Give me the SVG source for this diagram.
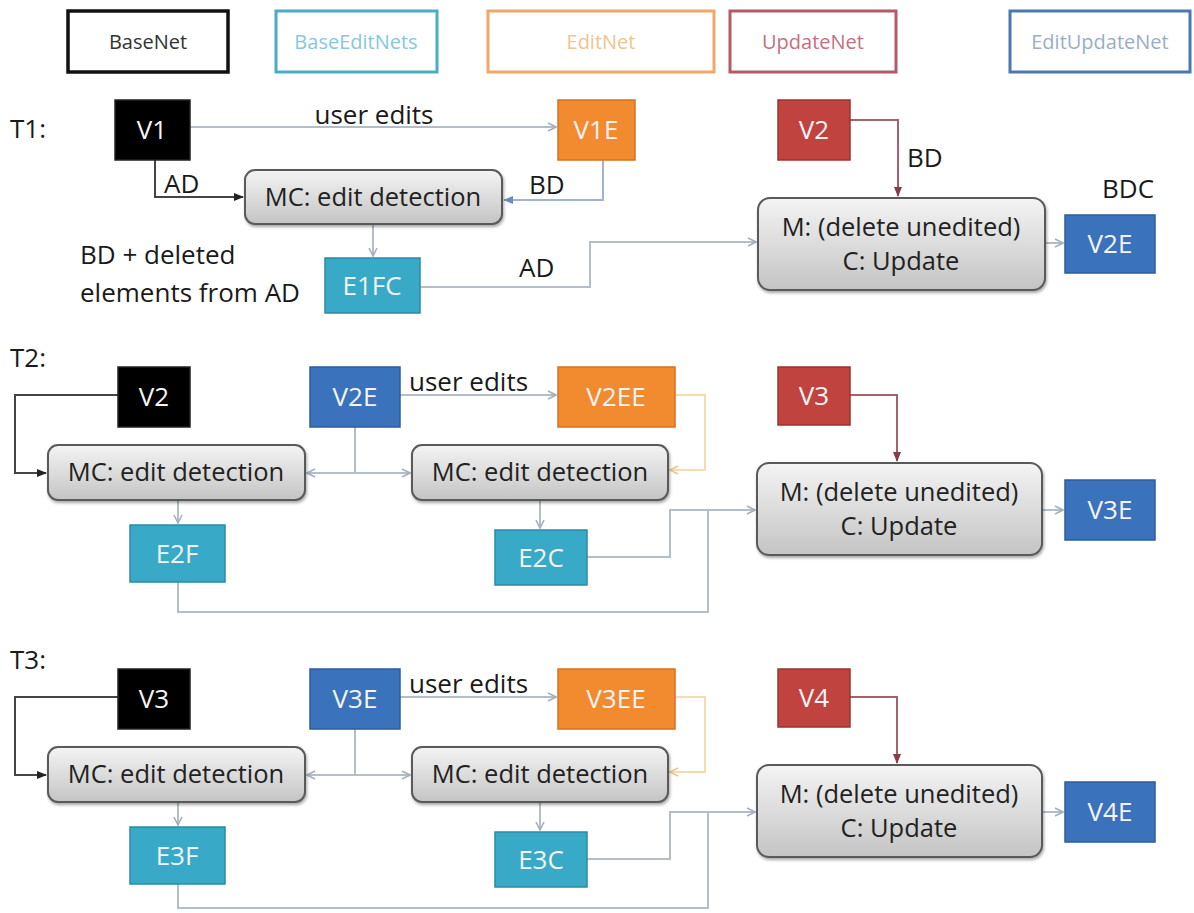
<svg xmlns="http://www.w3.org/2000/svg" width="1194" height="913" viewBox="0 0 1194 913">
<style>
text{font-family:"Open Sans","Liberation Sans",sans-serif;}
.lg{font-size:20px;text-anchor:middle;}
.lbl{font-size:26px;fill:#1a1a1a;}
.nt{font-size:26px;fill:#f4f4f4;text-anchor:middle;}
.pt{font-size:25.5px;fill:#222;text-anchor:middle;}
.blk{fill:#000;stroke:#222;stroke-width:1.5;}
.org{fill:#f28a30;stroke:#d8721e;stroke-width:1.5;}
.red{fill:#c0433f;stroke:#9a3431;stroke-width:1.5;}
.blu{fill:#3a72bc;stroke:#2c5c9c;stroke-width:1.5;}
.tea{fill:#38a9c6;stroke:#2b8aa6;stroke-width:1.5;}
.gry{fill:url(#gg);stroke:#5a5a5a;stroke-width:2;filter:url(#sh);}
.c{fill:none;stroke:#b4bec8;stroke-width:2;}
.cd{fill:none;stroke:#444;stroke-width:2;}
.cr{fill:none;stroke:#a8606a;stroke-width:2;}
.co{fill:none;stroke:#f2dcb0;stroke-width:2;}
.cb{fill:none;stroke:#9fb4d0;stroke-width:2;}
</style>
<defs>
<linearGradient id="gg" x1="0" y1="0" x2="0" y2="1">
<stop offset="0" stop-color="#f4f4f4"/>
<stop offset="1" stop-color="#c4c4c4"/>
</linearGradient>
<filter id="sh" x="-5%" y="-10%" width="110%" height="125%">
<feDropShadow dx="1" dy="2" stdDeviation="1.5" flood-color="#000" flood-opacity="0.35"/>
</filter>
<marker id="ag" viewBox="0 0 10 10" refX="9" refY="5" markerWidth="10" markerHeight="10" markerUnits="userSpaceOnUse" orient="auto"><path d="M1,1 L9,5 L1,9" fill="none" stroke="#a4b0bc" stroke-width="1.6"/></marker>
<marker id="ad" viewBox="0 0 10 10" refX="9" refY="5" markerWidth="10" markerHeight="10" markerUnits="userSpaceOnUse" orient="auto"><path d="M0,1 L10,5 L0,9 Z" fill="#222"/></marker>
<marker id="ar" viewBox="0 0 10 10" refX="9" refY="5" markerWidth="10" markerHeight="10" markerUnits="userSpaceOnUse" orient="auto"><path d="M0,1 L10,5 L0,9 Z" fill="#8a3a48"/></marker>
<marker id="ab" viewBox="0 0 10 10" refX="9" refY="5" markerWidth="10" markerHeight="10" markerUnits="userSpaceOnUse" orient="auto"><path d="M0,1 L10,5 L0,9 Z" fill="#6a8cc0"/></marker>
<marker id="ao" viewBox="0 0 10 10" refX="9" refY="5" markerWidth="10" markerHeight="10" markerUnits="userSpaceOnUse" orient="auto"><path d="M1,1 L9,5 L1,9" fill="none" stroke="#e8c890" stroke-width="1.6"/></marker>
</defs>
<rect width="1194" height="913" fill="#fff"/>

<g id="legend">
<g id="lg-basenet"><rect x="68" y="11" width="160" height="61" fill="#fff" stroke="#111" stroke-width="3.5"/><text class="lg" x="148" y="49" fill="#333">BaseNet</text></g>
<g id="lg-baseeditnets"><rect x="276" y="11" width="161" height="61" fill="#fff" stroke="#4bacc6" stroke-width="3"/><text class="lg" x="356" y="49" fill="#86c8dc">BaseEditNets</text></g>
<g id="lg-editnet"><rect x="488" y="11" width="226" height="61" fill="#fff" stroke="#f0a868" stroke-width="3"/><text class="lg" x="601" y="49" fill="#f2c48c">EditNet</text></g>
<g id="lg-updatenet"><rect x="730" y="11" width="166" height="61" fill="#fff" stroke="#b25a66" stroke-width="3"/><text class="lg" x="813" y="49" fill="#c4707e">UpdateNet</text></g>
<g id="lg-editupdatenet"><rect x="1010" y="11" width="180" height="61" fill="#fff" stroke="#4a78b0" stroke-width="3"/><text class="lg" x="1100" y="49" fill="#98aec8">EditUpdateNet</text></g>
</g>

<g id="connectors">
<!-- T1 -->
<path class="c" d="M190,127 H556" marker-end="url(#ag)"/>
<path class="cd" d="M155,160 V197 H243" marker-end="url(#ad)"/>
<path class="cb" d="M603,160 V200 H504" marker-end="url(#ab)"/>
<path class="c" d="M373,224 V256" marker-end="url(#ag)"/>
<path class="c" d="M420,287 H590 V242 H756" marker-end="url(#ag)"/>
<path class="cr" d="M850,120 H898 V196" marker-end="url(#ar)"/>
<path class="c" d="M1045,243 H1063" marker-end="url(#ag)"/>
<!-- T2 -->
<path class="cd" d="M118,395 H15 V473 H46" marker-end="url(#ad)"/>
<path class="c" d="M355,427 V473 H307" marker-end="url(#ag)"/>
<path class="c" d="M355,473 H410" marker-end="url(#ag)"/>
<path class="c" d="M400,395 H556" marker-end="url(#ag)"/>
<path class="co" d="M675,395 H705 V470 H670" marker-end="url(#ao)"/>
<path class="c" d="M178,500 V523" marker-end="url(#ag)"/>
<path class="c" d="M540,500 V528" marker-end="url(#ag)"/>
<path class="c" d="M587,557 H670 V510 H755" marker-end="url(#ag)"/>
<path class="c" d="M178,582 V612 H708 V510"/>
<path class="cr" d="M850,395 H897 V461" marker-end="url(#ar)"/>
<path class="c" d="M1042,510 H1063" marker-end="url(#ag)"/>
<!-- T3 -->
<path class="cd" d="M118,697 H15 V775 H46" marker-end="url(#ad)"/>
<path class="c" d="M355,729 V775 H307" marker-end="url(#ag)"/>
<path class="c" d="M355,775 H410" marker-end="url(#ag)"/>
<path class="c" d="M400,697 H556" marker-end="url(#ag)"/>
<path class="co" d="M675,697 H705 V772 H670" marker-end="url(#ao)"/>
<path class="c" d="M178,802 V825" marker-end="url(#ag)"/>
<path class="c" d="M540,802 V830" marker-end="url(#ag)"/>
<path class="c" d="M587,859 H670 V812 H755" marker-end="url(#ag)"/>
<path class="c" d="M178,884 V908 H708 V812"/>
<path class="cr" d="M850,697 H897 V763" marker-end="url(#ar)"/>
<path class="c" d="M1042,812 H1063" marker-end="url(#ag)"/>
</g>

<g id="labels">
<text class="lbl" x="10" y="138">T1:</text>
<text class="lbl" x="374" y="124" text-anchor="middle">user edits</text>
<text class="lbl" x="164" y="193">AD</text>
<text class="lbl" x="529" y="194">BD</text>
<text class="lbl" x="80" y="264">BD + deleted</text>
<text class="lbl" x="80" y="302">elements from AD</text>
<text class="lbl" x="519" y="277">AD</text>
<text class="lbl" x="907" y="167">BD</text>
<text class="lbl" x="1102" y="198">BDC</text>
<text class="lbl" x="10" y="367">T2:</text>
<text class="lbl" x="409" y="391">user edits</text>
<text class="lbl" x="10" y="669">T3:</text>
<text class="lbl" x="409" y="693">user edits</text>
</g>

<!-- T1 nodes -->
<g id="t1-v1"><rect class="blk" x="115" y="100" width="75" height="60"/><text class="nt" x="152" y="139">V1</text></g>
<g id="t1-v1e"><rect class="org" x="558" y="100" width="77" height="60"/><text class="nt" x="596" y="139">V1E</text></g>
<g id="t1-mc"><rect class="gry" x="245" y="170" width="257" height="54" rx="10"/><text class="pt" x="373" y="206">MC: edit detection</text></g>
<g id="t1-e1fc"><rect class="tea" x="325" y="258" width="95" height="55"/><text class="nt" x="372" y="295">E1FC</text></g>
<g id="t1-v2"><rect class="red" x="778" y="100" width="72" height="60"/><text class="nt" x="814" y="139">V2</text></g>
<g id="t1-m"><rect class="gry" x="758" y="198" width="287" height="92" rx="12"/><text class="pt" x="901" y="236">M: (delete unedited)</text><text class="pt" x="901" y="270">C: Update</text></g>
<g id="t1-v2e"><rect class="blu" x="1065" y="215" width="90" height="58"/><text class="nt" x="1110" y="253">V2E</text></g>

<!-- T2 nodes -->
<g id="t2-v2"><rect class="blk" x="118" y="367" width="72" height="60"/><text class="nt" x="154" y="406">V2</text></g>
<g id="t2-v2e"><rect class="blu" x="310" y="367" width="90" height="60"/><text class="nt" x="355" y="406">V2E</text></g>
<g id="t2-v2ee"><rect class="org" x="558" y="367" width="117" height="60"/><text class="nt" x="616" y="406">V2EE</text></g>
<g id="t2-mc-a"><rect class="gry" x="48" y="445" width="257" height="55" rx="10"/><text class="pt" x="176" y="481">MC: edit detection</text></g>
<g id="t2-mc-b"><rect class="gry" x="412" y="445" width="256" height="55" rx="10"/><text class="pt" x="540" y="481">MC: edit detection</text></g>
<g id="t2-e2f"><rect class="tea" x="130" y="525" width="95" height="57"/><text class="nt" x="177" y="563">E2F</text></g>
<g id="t2-e2c"><rect class="tea" x="495" y="530" width="92" height="55"/><text class="nt" x="541" y="567">E2C</text></g>
<g id="t2-v3"><rect class="red" x="778" y="367" width="72" height="58"/><text class="nt" x="814" y="405">V3</text></g>
<g id="t2-m"><rect class="gry" x="757" y="463" width="285" height="92" rx="12"/><text class="pt" x="899" y="501">M: (delete unedited)</text><text class="pt" x="899" y="535">C: Update</text></g>
<g id="t2-v3e"><rect class="blu" x="1065" y="480" width="90" height="60"/><text class="nt" x="1110" y="519">V3E</text></g>

<!-- T3 nodes -->
<g id="t3-v3"><rect class="blk" x="118" y="669" width="72" height="60"/><text class="nt" x="154" y="708">V3</text></g>
<g id="t3-v3e"><rect class="blu" x="310" y="669" width="90" height="60"/><text class="nt" x="355" y="708">V3E</text></g>
<g id="t3-v3ee"><rect class="org" x="558" y="669" width="117" height="60"/><text class="nt" x="616" y="708">V3EE</text></g>
<g id="t3-mc-a"><rect class="gry" x="48" y="747" width="257" height="55" rx="10"/><text class="pt" x="176" y="783">MC: edit detection</text></g>
<g id="t3-mc-b"><rect class="gry" x="412" y="747" width="256" height="55" rx="10"/><text class="pt" x="540" y="783">MC: edit detection</text></g>
<g id="t3-e3f"><rect class="tea" x="130" y="827" width="95" height="57"/><text class="nt" x="177" y="865">E3F</text></g>
<g id="t3-e3c"><rect class="tea" x="495" y="832" width="92" height="55"/><text class="nt" x="541" y="869">E3C</text></g>
<g id="t3-v4"><rect class="red" x="778" y="669" width="72" height="58"/><text class="nt" x="814" y="707">V4</text></g>
<g id="t3-m"><rect class="gry" x="757" y="765" width="285" height="92" rx="12"/><text class="pt" x="899" y="803">M: (delete unedited)</text><text class="pt" x="899" y="837">C: Update</text></g>
<g id="t3-v4e"><rect class="blu" x="1065" y="782" width="90" height="60"/><text class="nt" x="1110" y="821">V4E</text></g>
</svg>
